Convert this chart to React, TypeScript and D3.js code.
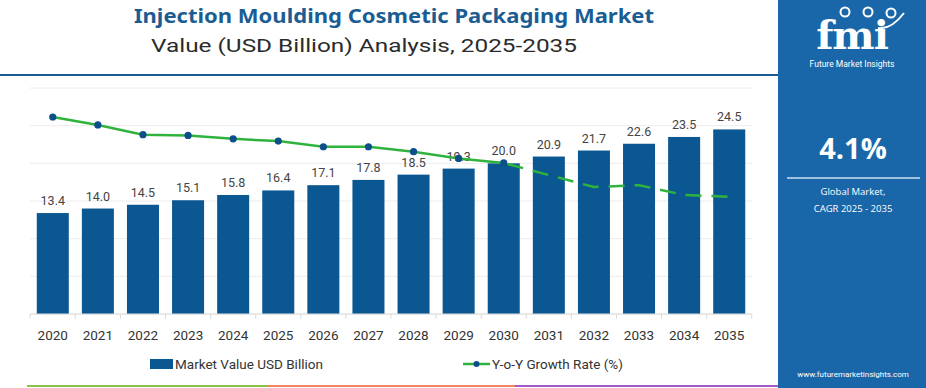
import { useMemo } from 'react'
import * as d3 from 'd3'

const years = ['2020', '2021', '2022', '2023', '2024', '2025', '2026', '2027', '2028', '2029', '2030', '2031', '2032', '2033', '2034', '2035']
const marketValues = [13.4, 14.0, 14.5, 15.1, 15.8, 16.4, 17.1, 17.8, 18.5, 19.3, 20.0, 20.9, 21.7, 22.6, 23.5, 24.5]
const growthRates = [5.23, 5.02, 4.76, 4.74, 4.65, 4.59, 4.44, 4.44, 4.31, 4.13, 4.01, 3.69, 3.37, 3.42, 3.16, 3.11]
const valueTicks = [0, 5, 10, 15, 20, 25, 30]
const lastActualYear = '2030'

const W = 926
const H = 388
const plot = { left: 30, right: 752, top: 88, bottom: 314 }

const barBlue = '#0b5791'
const panelBlue = '#1967a9'
const lineGreen = '#2fb33d'
const markerBlue = '#0d4f8a'

export default function App() {
  const x = useMemo(
    () => d3.scaleBand<string>().domain(years).range([plot.left, plot.right]).paddingInner(0.29).paddingOuter(0.15),
    [],
  )
  const y = d3.scaleLinear().domain([0, 30]).range([plot.bottom, plot.top])
  const y2 = d3.scaleLinear().domain([0, 6]).range([plot.bottom, plot.top])

  const points = years.map((yr, i) => ({ yr, v: growthRates[i] }))
  const cut = years.indexOf(lastActualYear)
  const line = d3
    .line<{ yr: string; v: number }>()
    .x((d) => (x(d.yr) ?? 0) + x.bandwidth() / 2)
    .y((d) => y2(d.v))
  const solidPart = points.slice(0, cut + 1)
  const dashedPart = points.slice(cut)

  const step = x.step()

  return (
    <svg width={W} height={H} style={{ position: 'absolute', left: 0, top: 0, background: '#fff' }}>
      {/* header */}
      <text x={394} y={23} textAnchor="middle" fontFamily="'Noto Sans', sans-serif" fontWeight={700} fontSize={20} fill="#1b5d92" textLength={520} lengthAdjust="spacingAndGlyphs">
        Injection Moulding Cosmetic Packaging Market
      </text>
      <text x={364} y={52} textAnchor="middle" fontFamily="Roboto, sans-serif" fontSize={18} fill="#2b2b2b" textLength={426} lengthAdjust="spacingAndGlyphs">
        Value (USD Billion) Analysis, 2025-2035
      </text>
      <line x1={0} x2={778} y1={75} y2={75} stroke="#1b5d92" strokeWidth={2} />

      {/* grid */}
      {valueTicks.map((t) => (
        <line key={t} x1={plot.left} x2={plot.right} y1={y(t)} y2={y(t)} stroke="#ececec" strokeWidth={1} />
      ))}

      {/* bars */}
      {years.map((yr, i) => (
        <rect key={yr} x={x(yr)} y={y(marketValues[i])} width={x.bandwidth()} height={y(0) - y(marketValues[i])} fill={barBlue} />
      ))}
      {years.map((yr, i) => (
        <text key={yr} x={(x(yr) ?? 0) + x.bandwidth() / 2} y={y(marketValues[i]) - 8} textAnchor="middle" fontFamily="Roboto, sans-serif" fontSize={12.5} fill="#444">
          {marketValues[i].toFixed(1)}
        </text>
      ))}

      {/* x axis */}
      <line x1={plot.left} x2={plot.right} y1={plot.bottom} y2={plot.bottom} stroke="#dcdcdc" />
      {d3.range(years.length + 1).map((i) => {
        const tx = (x(years[0]) ?? 0) - (step - x.bandwidth()) / 2 + i * step
        return <line key={i} x1={tx} x2={tx} y1={plot.bottom} y2={plot.bottom + 5} stroke="#dcdcdc" />
      })}
      {years.map((yr) => (
        <text key={yr} x={(x(yr) ?? 0) + x.bandwidth() / 2} y={340} textAnchor="middle" fontFamily="Roboto, sans-serif" fontSize={13.5} fill="#333">
          {yr}
        </text>
      ))}

      {/* growth line */}
      <path d={line(solidPart) ?? ''} fill="none" stroke={lineGreen} strokeWidth={2.5} />
      <path d={line(dashedPart) ?? ''} fill="none" stroke={lineGreen} strokeWidth={2.5} strokeDasharray="16 10" strokeDashoffset={-4} />
      {solidPart.map((d) => (
        <circle key={d.yr} cx={(x(d.yr) ?? 0) + x.bandwidth() / 2} cy={y2(d.v)} r={3.6} fill={markerBlue} />
      ))}

      {/* legend */}
      <rect x={150} y={359} width={23} height={10} fill={barBlue} />
      <text x={175} y={368.5} fontFamily="Roboto, sans-serif" fontSize={13.5} fill="#333">
        Market Value USD Billion
      </text>
      <line x1={463} x2={490} y1={364} y2={364} stroke={lineGreen} strokeWidth={2.5} />
      <circle cx={476.5} cy={364} r={3} fill={markerBlue} />
      <text x={492} y={368.5} fontFamily="Roboto, sans-serif" fontSize={13.5} fill="#333">
        Y-o-Y Growth Rate (%)
      </text>

      {/* bottom strip */}
      <rect x={27} y={385} width={240} height={2} fill="#8bc34a" />
      <rect x={267} y={385} width={248} height={2} fill="#f4845f" />
      <rect x={515} y={385} width={263} height={2} fill="#a05cc8" />

      {/* right panel */}
      <rect x={778} y={0} width={148} height={H} fill={panelBlue} />
      <g fill="#fff">
        <text x={852} y={49} textAnchor="middle" fontFamily="'DejaVu Serif', serif" fontWeight={700} fontSize={40} letterSpacing={-1}>
          fmi
        </text>
        <circle cx={845} cy={12} r={4.5} fill="none" stroke="#fff" strokeWidth={2} />
        <circle cx={868} cy={12} r={4.5} fill="none" stroke="#fff" strokeWidth={2} />
        <circle cx={891} cy={13} r={4.5} fill="none" stroke="#fff" strokeWidth={2} />
        <path d="M878 28 Q891 30 904 13" fill="none" stroke="#fff" strokeWidth={2} />
        <text x={852} y={67} textAnchor="middle" fontFamily="Roboto, sans-serif" fontSize={8.5}>
          Future Market Insights
        </text>
        <text x={853} y={159} textAnchor="middle" fontFamily="'Open Sans', sans-serif" fontWeight={700} fontSize={29}>
          4.1%
        </text>
        <line x1={787} x2={920} y1={178} y2={178} stroke="#cfe0f0" strokeWidth={1.5} />
        <text x={853} y={195} textAnchor="middle" fontFamily="'Open Sans', sans-serif" fontSize={9.5}>
          Global Market,
        </text>
        <text x={853} y={212} textAnchor="middle" fontFamily="'Open Sans', sans-serif" fontSize={9.5}>
          CAGR 2025 - 2035
        </text>
        <text x={853} y={377} textAnchor="middle" fontFamily="Roboto, sans-serif" fontSize={8}>
          www.futuremarketinsights.com
        </text>
      </g>
    </svg>
  )
}
